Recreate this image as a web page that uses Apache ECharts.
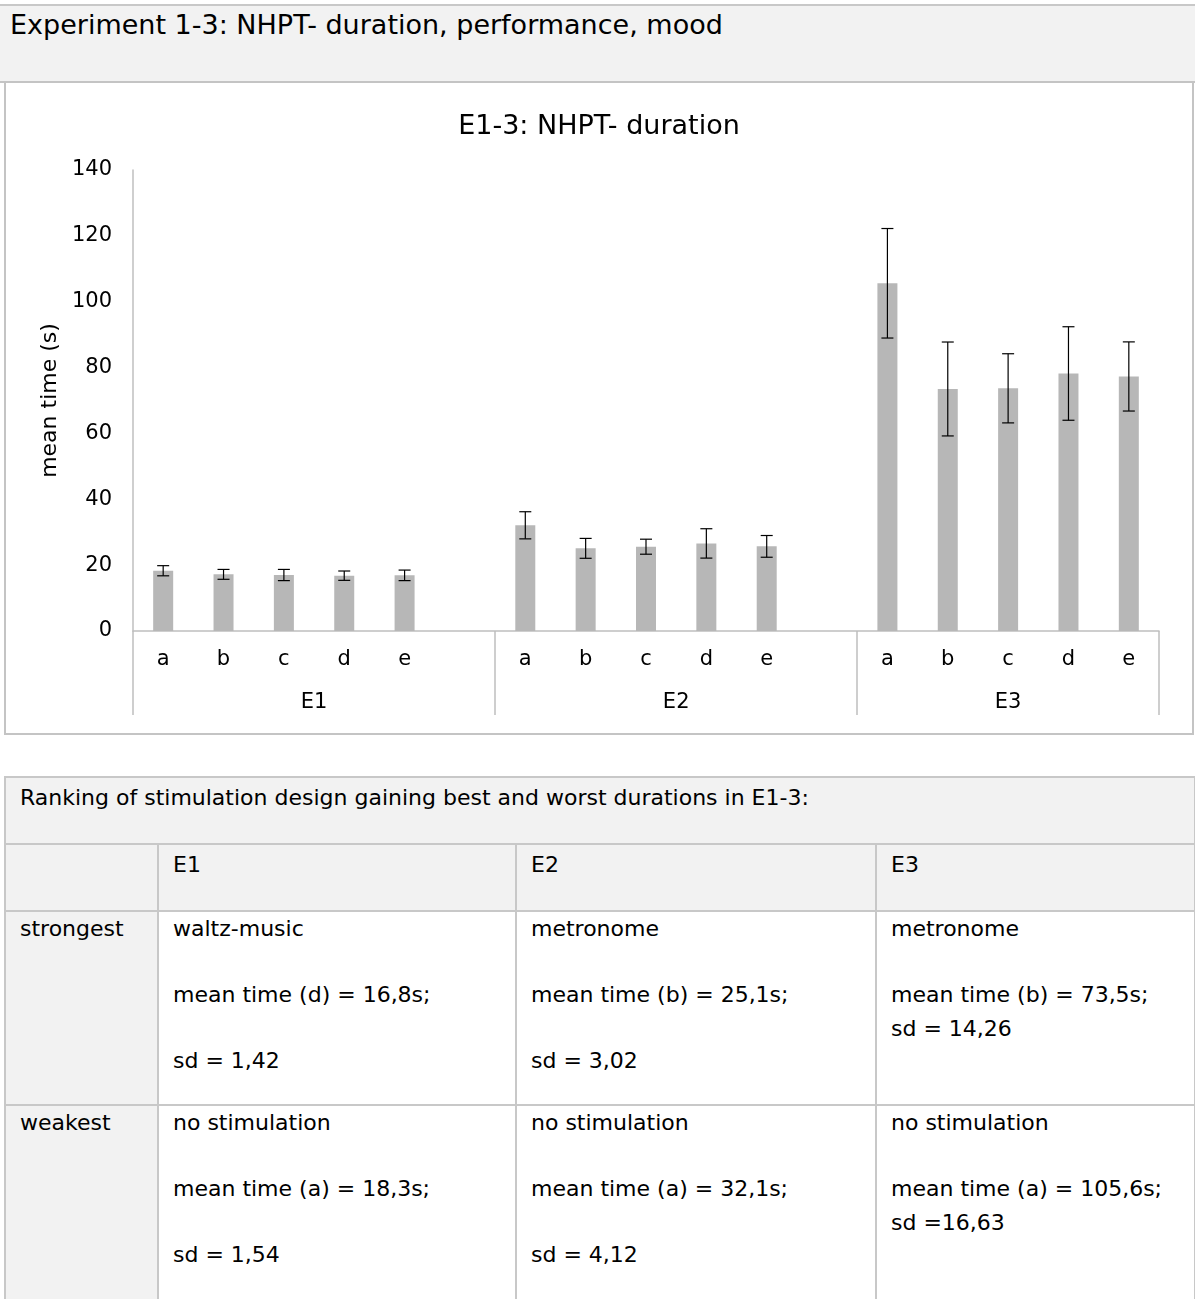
<!DOCTYPE html>
<html>
<head>
<meta charset="utf-8">
<script src="https://cdn.jsdelivr.net/npm/echarts@6/dist/echarts.min.js"></script>
<style>
  html, body { margin: 0; padding: 0; background: #fff; }
  body { width: 1195px; height: 1299px; position: relative; overflow: hidden;
         font-family: 'DejaVu Sans', Verdana, sans-serif; color: #000; }
  #head { position: absolute; left: 0; top: 4px; width: 1195px; height: 79px;
          background: #f2f2f2; border-top: 2px solid #c8c8c8; border-bottom: 2px solid #c4c4c4;
          box-sizing: border-box; }
  #head span { position: absolute; left: 10px; top: 3px; font-size: 27px; line-height: 32px; }
  #box { position: absolute; left: 4px; top: 81px; width: 1190px; height: 654px;
         border: 2px solid #c4c4c4; box-sizing: border-box; }
  #chart { position: absolute; left: 6px; top: 83px; width: 1186px; height: 650px; }
  table { position: absolute; left: 4px; top: 776px; width: 1190px; border-collapse: collapse;
          table-layout: fixed; font-size: 22px; }
  td { border: 2px solid #c8c8c8; vertical-align: top; padding: 3px 15px 0 14px; line-height: 34px; }
  tr.data td { padding-top: 0; }
  td.g { background: #f2f2f2; }
  td p { margin: 0 0 32px 0; }
  td p:last-child { margin-bottom: 0; }
</style>
</head>
<body>
<div id="head"><span>Experiment 1-3: NHPT- duration, performance, mood</span></div>
<div id="box"></div>
<div id="chart"></div>
<table>
  <colgroup><col style="width:153px"><col style="width:358px"><col style="width:360px"><col style="width:319px"></colgroup>
  <tr style="height:67px"><td class="g" colspan="4">Ranking of stimulation design gaining best and worst durations in E1-3:</td></tr>
  <tr style="height:67px"><td class="g"></td><td class="g">E1</td><td class="g">E2</td><td class="g">E3</td></tr>
  <tr class="data" style="height:194px">
    <td class="g">strongest</td>
    <td><p>waltz-music</p><p>mean time (d) = 16,8s;</p><p>sd = 1,42</p></td>
    <td><p>metronome</p><p>mean time (b) = 25,1s;</p><p>sd = 3,02</p></td>
    <td><p>metronome</p><p>mean time (b) = 73,5s;<br>sd = 14,26</p></td>
  </tr>
  <tr class="data" style="height:200px">
    <td class="g">weakest</td>
    <td><p>no stimulation</p><p>mean time (a) = 18,3s;</p><p>sd = 1,54</p></td>
    <td><p>no stimulation</p><p>mean time (a) = 32,1s;</p><p>sd = 4,12</p></td>
    <td><p>no stimulation</p><p>mean time (a) = 105,6s;<br>sd =16,63</p></td>
  </tr>
</table>
<script>
// Experiments and stimulation conditions
const groups = ['E1', 'E2', 'E3'];
const conditions = ['a', 'b', 'c', 'd', 'e'];

// Mean NHPT duration (s) per condition
const meanE1 = [18.3, 17.2, 17.0, 16.8, 16.9];
const meanE2 = [32.1, 25.1, 25.6, 26.6, 25.7];
const meanE3 = [105.6, 73.5, 73.7, 78.2, 77.3];

// Standard deviations (error bars)
const sdE1 = [1.54, 1.5, 1.7, 1.42, 1.6];
const sdE2 = [4.12, 3.02, 2.28, 4.46, 3.3];
const sdE3 = [16.63, 14.26, 10.5, 14.2, 10.5];

// Value axis
const yMin = 0, yMax = 140, yStep = 20;

const means = [meanE1, meanE2, meanE3];
const sds = [sdE1, sdE2, sdE3];

// Flatten into one category axis, with an empty slot after each group except the last
const cats = [], barData = [], errData = [], groupSizes = [];
groups.forEach(function (g, gi) {
  conditions.forEach(function (c, ci) {
    const idx = cats.length;
    cats.push(c);
    barData.push(means[gi][ci]);
    errData.push([idx, means[gi][ci] - sds[gi][ci], means[gi][ci] + sds[gi][ci]]);
  });
  let size = conditions.length;
  if (gi < groups.length - 1) { cats.push(''); barData.push(null); size += 1; }
  groupSizes.push(size);
});

// Group axis: half-slot resolution so group names and separators land on points
const halfCats = new Array(cats.length * 2 + 1).fill('');
const sepIdx = [0];
let acc = 0;
groups.forEach(function (g, gi) {
  halfCats[acc * 2 + groupSizes[gi]] = g;
  acc += groupSizes[gi];
  sepIdx.push(acc * 2);
});

const font = "'DejaVu Sans', Verdana, sans-serif";
const chart = echarts.init(document.getElementById('chart'));
chart.setOption({
  animation: false,
  title: {
    text: 'E1-3: NHPT- duration',
    left: 'center', top: 25,
    textStyle: { fontFamily: font, fontSize: 27, fontWeight: 'normal', color: '#000' }
  },
  grid: { left: 127, top: 87, width: 1026, height: 461 },
  xAxis: [{
    type: 'category', data: cats, position: 'bottom',
    axisLine: { lineStyle: { color: '#bfbfbf', width: 1.5 } },
    axisTick: { show: false },
    axisLabel: { interval: 0, margin: 18, fontFamily: font, fontSize: 21, color: '#000' }
  }, {
    type: 'category', data: halfCats, boundaryGap: false, position: 'bottom',
    axisLine: { show: false },
    axisTick: {
      show: true, length: 84, inside: false,
      interval: function (i) { return sepIdx.indexOf(i) >= 0; },
      lineStyle: { color: '#bfbfbf', width: 1.5 }
    },
    axisLabel: {
      interval: function (i, v) { return v !== ''; },
      margin: 61, fontFamily: font, fontSize: 21, color: '#000'
    }
  }],
  yAxis: {
    type: 'value', min: yMin, max: yMax, interval: yStep,
    name: 'mean time (s)', nameLocation: 'middle', nameGap: 68,
    nameTextStyle: { fontFamily: font, fontSize: 22, color: '#000' },
    axisLine: { show: true, lineStyle: { color: '#bfbfbf', width: 1.5 } },
    axisTick: { show: false },
    splitLine: { show: false },
    axisLabel: { margin: 21, fontFamily: font, fontSize: 21, color: '#000' }
  },
  series: [{
    type: 'bar', xAxisIndex: 0, data: barData, barWidth: 20,
    itemStyle: { color: '#b7b7b7' }
  }, {
    type: 'custom', xAxisIndex: 0, data: errData,
    encode: { x: 0, y: [1, 2] },
    renderItem: function (params, api) {
      const lo = api.coord([api.value(0), api.value(1)]);
      const hi = api.coord([api.value(0), api.value(2)]);
      const w = 6;
      const st = { stroke: '#000', lineWidth: 1.2, fill: null };
      return {
        type: 'group',
        children: [
          { type: 'line', shape: { x1: lo[0], y1: lo[1], x2: hi[0], y2: hi[1] }, style: st },
          { type: 'line', shape: { x1: lo[0] - w, y1: lo[1], x2: lo[0] + w, y2: lo[1] }, style: st },
          { type: 'line', shape: { x1: hi[0] - w, y1: hi[1], x2: hi[0] + w, y2: hi[1] }, style: st }
        ]
      };
    },
    z: 5
  }]
});
</script>
</body>
</html>
